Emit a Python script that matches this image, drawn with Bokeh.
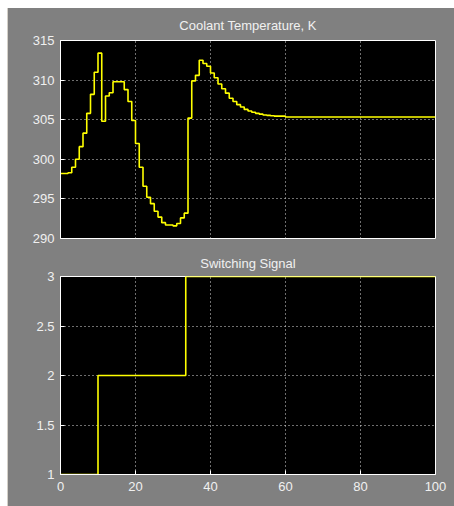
from bokeh.plotting import figure
from bokeh.layouts import column, row
from bokeh.models import FixedTicker, Range1d, Spacer
from bokeh.embed import file_html
from bokeh.resources import INLINE

# ---- data ----
temp_title = "Coolant Temperature, K"
switch_title = "Switching Signal"

t_temp = [0, 1, 2, 3, 4, 5, 6, 7, 8, 9, 10, 11, 12, 13, 14, 15, 16, 17, 18, 19,
          20, 21, 22, 23, 24, 25, 26, 27, 28, 29, 30, 31, 32, 33, 34, 35, 36, 37,
          38, 39, 40, 41, 42, 43, 44, 45, 46, 47, 48, 49, 50, 51, 52, 53, 54, 55,
          56, 57, 58, 59, 60, 100]
temp = [298.2, 298.2, 298.3, 299.0, 300.0, 301.6, 303.3, 305.8, 308.2, 311.0,
        313.4, 304.8, 308.0, 308.4, 309.8, 309.8, 309.8, 308.8, 307.3, 304.9,
        302.0, 299.0, 296.6, 295.2, 294.4, 293.45, 292.7, 292.0, 291.7, 291.7,
        291.6, 291.9, 292.6, 293.2, 305.2, 309.9, 310.6, 312.5, 312.1, 311.75,
        310.9, 310.3, 309.5, 308.9, 308.35, 307.7, 307.3, 306.9, 306.6, 306.3,
        306.1, 305.95, 305.8, 305.7, 305.6, 305.55, 305.5, 305.45, 305.45, 305.45,
        305.35, 305.35]

t_switch = [0, 10, 33.4, 100]
switch = [1, 2, 3, 3]

x_ticks = [0, 20, 40, 60, 80, 100]
temp_ticks = [290, 295, 300, 305, 310, 315]
switch_ticks = [1, 1.5, 2, 2.5, 3]
switch_tick_labels = {1: "1", 1.5: "1.5", 2: "2", 2.5: "2.5", 3: "3"}

BG = "#808080"
FG = "#f0f0f0"
FONT = "Liberation Sans"


def style(p, yticks, standoff):
    p.background_fill_color = "black"
    p.border_fill_color = BG
    p.outline_line_color = "white"
    p.title.text_color = FG
    p.title.text_font = FONT
    p.title.text_font_size = "13px"
    p.title.text_font_style = "normal"
    p.title.align = "center"
    p.title.standoff = standoff
    for g in (p.xgrid[0], p.ygrid[0]):
        g.grid_line_color = "#dcdcdc"
        g.grid_line_dash = "1 3"
        g.grid_line_width = 1
    p.xgrid[0].ticker = FixedTicker(ticks=x_ticks)
    p.ygrid[0].ticker = FixedTicker(ticks=yticks)
    for ax in p.xaxis:
        ax.ticker = FixedTicker(ticks=x_ticks)
        ax.major_label_standoff = 7
    for ax in p.yaxis:
        ax.ticker = FixedTicker(ticks=yticks)
        ax.major_label_standoff = 6
    for ax in list(p.xaxis) + list(p.yaxis):
        ax.axis_line_color = "white"
        ax.major_tick_line_color = "white"
        ax.major_tick_in = 4
        ax.major_tick_out = 0
        ax.minor_tick_line_color = None
        ax.major_label_text_color = FG
        ax.major_label_text_font = FONT
        ax.major_label_text_font_size = "13px"


p1 = figure(width=446, height=239, title=temp_title,
            x_range=Range1d(0, 100), y_range=Range1d(290, 315),
            output_backend="svg", toolbar_location=None,
            min_border_left=52, min_border_right=19,
            min_border_top=32, min_border_bottom=9)
style(p1, temp_ticks, 15)
p1.xaxis.visible = False
p1.step(t_temp, temp, mode="after", line_color="#ffff00", line_width=1.6)

p2 = figure(width=446, height=259, title=switch_title,
            x_range=Range1d(0, 100), y_range=Range1d(1, 3),
            output_backend="svg", toolbar_location=None,
            min_border_left=52, min_border_right=19,
            min_border_top=29, min_border_bottom=32)
style(p2, switch_ticks, 12)
p2.yaxis.major_label_overrides = switch_tick_labels
p2.step(t_switch, switch, mode="after", line_color="#ffff00", line_width=1.6)

plots = column(p1, p2)
plots.background = BG
layout = column(
    Spacer(width=454, height=8),
    row(Spacer(width=7, height=498),
        Spacer(width=1, height=498, background="#d4d0c8"),
        plots),
)

open("out.html", "w").write(file_html(layout, INLINE))
